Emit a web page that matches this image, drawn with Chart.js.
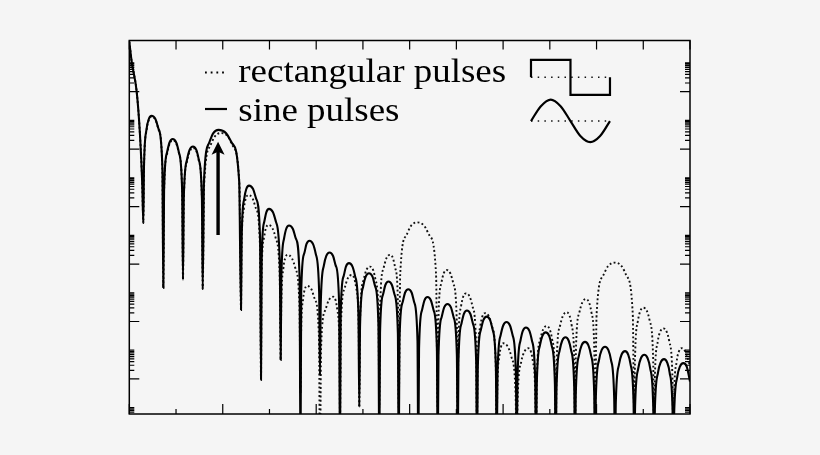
<!DOCTYPE html>
<html>
<head>
<meta charset="utf-8">
<title>Spectra of rectangular and sine pulses</title>
<script src="https://cdn.jsdelivr.net/npm/chart.js@4.4.1/dist/chart.umd.min.js"></script>
<style>
  html, body { margin: 0; padding: 0; background: #f5f5f5; }
  #wrap { position: relative; width: 820px; height: 455px; }
</style>
</head>
<body>
<div id="wrap"><canvas id="myChart" width="820" height="455"></canvas></div>
<script>
// spectrum of the sine pulses (x in tick units, level in dB)
const sineX = [
  0, 0.051, 0.158, 0.229, 0.278, 0.300,
  0.314, 0.370, 0.416, 0.475, 0.561, 0.627, 0.708, 0.728,
  0.744, 0.808, 0.861, 0.929, 1.004, 1.061, 1.131, 1.149,
  1.166, 1.235, 1.290, 1.363, 1.434, 1.488, 1.554, 1.571,
  1.598, 1.706, 1.794, 1.909, 2.073, 2.198, 2.352, 2.391,
  2.405, 2.459, 2.504, 2.562, 2.649, 2.716, 2.798, 2.819,
  2.833, 2.887, 2.932, 2.990, 3.075, 3.140, 3.220, 3.240,
  3.254, 3.311, 3.357, 3.418, 3.502, 3.566, 3.644, 3.664,
  3.679, 3.741, 3.791, 3.857, 3.933, 3.991, 4.063, 4.081,
  4.097, 4.163, 4.216, 4.285, 4.361, 4.419, 4.491, 4.509,
  4.524, 4.586, 4.636, 4.702, 4.777, 4.834, 4.904, 4.922,
  4.939, 5.005, 5.059, 5.130, 5.205, 5.262, 5.332, 5.350,
  5.366, 5.429, 5.480, 5.547, 5.621, 5.678, 5.748, 5.766,
  5.782, 5.848, 5.901, 5.971, 6.044, 6.099, 6.168, 6.185,
  6.201, 6.264, 6.315, 6.382, 6.456, 6.513, 6.583, 6.600,
  6.617, 6.684, 6.739, 6.810, 6.884, 6.941, 7.011, 7.028,
  7.044, 7.108, 7.159, 7.227, 7.300, 7.355, 7.424, 7.441,
  7.458, 7.524, 7.578, 7.649, 7.722, 7.777, 7.846, 7.863,
  7.880, 7.947, 8.002, 8.073, 8.147, 8.204, 8.274, 8.291,
  8.307, 8.371, 8.422, 8.490, 8.563, 8.618, 8.687, 8.704,
  8.721, 8.787, 8.841, 8.912, 8.985, 9.040, 9.109, 9.126,
  9.143, 9.210, 9.264, 9.335, 9.404, 9.457, 9.523, 9.539,
  9.556, 9.625, 9.680, 9.753, 9.826, 9.881, 9.950, 9.967,
  9.984, 10.053, 10.108, 10.181, 10.254, 10.309, 10.378, 10.395,
  10.412, 10.481, 10.536, 10.609, 10.677, 10.728, 10.792, 10.808,
  10.825, 10.894, 10.949, 11.022, 11.093, 11.147, 11.213, 11.230,
  11.247, 11.316, 11.371, 11.444, 11.512, 11.563, 11.627, 11.643,
  11.660, 11.729, 11.784, 11.857, 11.930, 12.0
];
const sineDb = [
  17.4, 10.4, 0, -15.1, -32.5, -45.7,
  -26.4, -13.0, -9.6, -8.4, -9.6, -13.0, -26.4, -68.3,
  -34.5, -21.1, -17.7, -16.5, -17.7, -21.1, -34.5, -65.5,
  -37.1, -23.7, -20.3, -19.1, -20.3, -23.7, -37.1, -68.7,
  -31.3, -17.9, -14.5, -13.3, -14.5, -17.9, -31.3, -76.0,
  -50.7, -37.3, -33.9, -32.7, -33.9, -37.3, -50.7, -100.3,
  -58.8, -45.4, -42.0, -40.8, -42.0, -45.4, -58.8, -93.4,
  -64.6, -51.2, -47.8, -46.6, -47.8, -51.2, -64.6, -130,
  -69.9, -56.5, -53.1, -51.9, -53.1, -56.5, -69.9, -98.6,
  -74.0, -60.6, -57.2, -56.0, -57.2, -60.6, -74.0, -130,
  -77.7, -64.3, -60.9, -59.7, -60.9, -64.3, -77.7, -109.7,
  -81.2, -67.8, -64.4, -63.2, -64.4, -67.8, -81.2, -130,
  -84.1, -70.7, -67.3, -66.1, -67.3, -70.7, -84.1, -130,
  -86.8, -73.4, -70.0, -68.8, -70.0, -73.4, -86.8, -130,
  -89.5, -76.1, -72.7, -71.5, -72.7, -76.1, -89.5, -130,
  -91.9, -78.5, -75.1, -73.9, -75.1, -78.5, -91.9, -130,
  -94.2, -80.8, -77.4, -76.2, -77.4, -80.8, -94.2, -130,
  -96.3, -82.9, -79.5, -78.3, -79.5, -82.9, -96.3, -130,
  -98.2, -84.8, -81.4, -80.2, -81.4, -84.8, -98.2, -130,
  -100.1, -86.7, -83.3, -82.1, -83.3, -86.7, -100.1, -130,
  -101.8, -88.4, -85.0, -83.8, -85.0, -88.4, -101.8, -130,
  -103.5, -90.1, -86.7, -85.5, -86.7, -90.1, -103.5, -130,
  -105.1, -91.7, -88.3, -87.1, -88.3, -91.7, -105.1, -130,
  -106.8, -93.4, -90.0, -88.8, -90.0, -93.4, -106.8, -130,
  -108.3, -94.9, -91.5, -90.3, -91.5, -94.9, -108.3, -130,
  -109.6, -96.2, -92.8, -91.6, -92.8, -96.2, -109.6, -130,
  -111.1, -97.7, -94.3, -93.1, -94.3, -97.7, -111.1, -130,
  -112.5, -99.1, -95.7, -94.5, -95.7, -100.9
];

// spectrum of the rectangular pulses
const rectX = [
  0, 0.051, 0.158, 0.229, 0.278, 0.300,
  0.314, 0.371, 0.417, 0.478, 0.563, 0.628, 0.708, 0.728,
  0.744, 0.810, 0.863, 0.933, 1.006, 1.063, 1.132, 1.149,
  1.167, 1.237, 1.294, 1.368, 1.437, 1.490, 1.555, 1.571,
  1.602, 1.728, 1.830, 1.963, 2.109, 2.220, 2.357, 2.391,
  2.403, 2.453, 2.494, 2.547, 2.639, 2.710, 2.797, 2.819,
  2.831, 2.881, 2.922, 2.975, 3.065, 3.134, 3.219, 3.240,
  3.252, 3.298, 3.336, 3.386, 3.481, 3.553, 3.642, 3.664,
  3.675, 3.720, 3.756, 3.803, 3.898, 3.970, 4.059, 4.081,
  4.104, 4.195, 4.269, 4.366, 4.415, 4.452, 4.498, 4.509,
  4.529, 4.609, 4.675, 4.760, 4.815, 4.857, 4.909, 4.922,
  4.940, 5.014, 5.073, 5.151, 5.219, 5.270, 5.334, 5.350,
  5.368, 5.442, 5.502, 5.580, 5.643, 5.692, 5.751, 5.766,
  5.798, 5.925, 6.029, 6.164, 6.312, 6.426, 6.565, 6.600,
  6.615, 6.677, 6.727, 6.793, 6.873, 6.934, 7.009, 7.028,
  7.042, 7.099, 7.145, 7.206, 7.286, 7.347, 7.422, 7.441,
  7.455, 7.510, 7.555, 7.613, 7.698, 7.763, 7.843, 7.863,
  7.874, 7.919, 7.956, 8.004, 8.102, 8.176, 8.268, 8.291,
  8.311, 8.390, 8.455, 8.539, 8.595, 8.638, 8.691, 8.704,
  8.722, 8.796, 8.855, 8.933, 8.999, 9.049, 9.111, 9.126,
  9.145, 9.220, 9.281, 9.361, 9.422, 9.468, 9.525, 9.539,
  9.558, 9.633, 9.694, 9.774, 9.840, 9.890, 9.952, 9.967,
  10.001, 10.138, 10.249, 10.395, 10.535, 10.643, 10.775, 10.808,
  10.823, 10.885, 10.935, 11.001, 11.079, 11.138, 11.212, 11.230,
  11.246, 11.310, 11.361, 11.429, 11.502, 11.557, 11.626, 11.643,
  11.657, 11.715, 11.761, 11.822, 11.900, 12.0
];
const rectDb = [
  17.4, 10.4, 0, -15.1, -32.5, -45.7,
  -26.7, -13.3, -9.9, -8.7, -9.9, -13.3, -26.7, -68.3,
  -34.9, -21.5, -18.1, -16.9, -18.1, -21.5, -34.9, -65.5,
  -37.6, -24.2, -20.8, -19.6, -20.8, -24.2, -37.6, -68.7,
  -32.4, -19.0, -15.6, -14.4, -15.6, -19.0, -32.4, -76.0,
  -54.0, -40.6, -37.2, -36.0, -37.2, -40.6, -54.0, -100.3,
  -64.4, -51.0, -47.6, -46.4, -47.6, -51.0, -64.4, -93.4,
  -74.8, -61.4, -58.0, -56.8, -58.0, -61.4, -74.8, -105,
  -85.6, -72.2, -68.8, -67.6, -68.8, -72.2, -85.6, -130,
  -89.4, -76.0, -72.6, -71.4, -72.6, -76.0, -89.4, -115,
  -81.8, -68.4, -65.0, -63.8, -65.0, -68.4, -81.8, -110,
  -78.9, -65.5, -62.1, -60.9, -62.1, -65.5, -78.9, -110,
  -74.8, -61.4, -58.0, -56.8, -58.0, -61.4, -74.8, -110,
  -63.5, -50.1, -46.7, -45.5, -46.7, -50.1, -63.5, -110,
  -80.1, -66.7, -63.3, -62.1, -63.3, -66.7, -80.1, -115,
  -88.2, -74.8, -71.4, -70.2, -71.4, -74.8, -88.2, -120,
  -95.1, -81.7, -78.3, -77.1, -78.3, -81.7, -95.1, -125,
  -105.6, -92.2, -88.8, -87.6, -88.8, -92.2, -105.6, -130,
  -107.3, -93.9, -90.5, -89.3, -90.5, -93.9, -107.3, -130,
  -99.6, -86.2, -82.8, -81.6, -82.8, -86.2, -99.6, -125,
  -94.8, -81.4, -78.0, -76.8, -78.0, -81.4, -94.8, -120,
  -90.2, -76.8, -73.4, -72.2, -73.4, -76.8, -90.2, -115,
  -77.5, -64.1, -60.7, -59.5, -60.7, -64.1, -77.5, -115,
  -93.2, -79.8, -76.4, -75.2, -76.4, -79.8, -93.2, -120,
  -100.4, -87.0, -83.6, -82.4, -83.6, -87.0, -100.4, -125,
  -107.3, -93.9, -90.5, -89.3, -90.5, -95.5
];

// inset: one period of each pulse shape
const squareX = [0, 0, 0.5, 0.5, 1, 1];
const squareY = [0, 1, 1, -1, -1, 0];
const waveX = [0, 0.125, 0.25, 0.375, 0.5, 0.625, 0.75, 0.875, 1];
const waveY = [-2.5, -1.65, -1.27, -1.65, -2.5, -3.35, -3.7, -3.35, -2.5];
const zeroX = [0, 1];
const squareZero = [0, 0];
const waveZero = [-2.5, -2.5];

// axes (no tick labels in the figure)
const xTickValues = [0, 1, 2, 3, 4, 5, 6, 7, 8, 9, 10, 11, 12];
const yMajorDb = [20, 0, -20, -40, -60, -80, -100, -120];
const seriesLabels = ['rectangular pulses', 'sine pulses'];

// carrier arrow
const arrowX = 1.90;
const arrowFromDb = -49.9;
const arrowToDb = -17.4;

function toPoints(xs, ys) {
  return xs.map((v, i) => ({ x: v, y: ys[i] }));
}

const framePlugin = {
  id: 'frame',
  afterDatasetsDraw(chart) {
    const { ctx, chartArea: a, scales: { x, y } } = chart;
    ctx.save();

    // ticks
    ctx.strokeStyle = '#000';
    ctx.lineWidth = 1.2;
    ctx.beginPath();
    xTickValues.forEach(v => {
      const px = x.getPixelForValue(v);
      ctx.moveTo(px, a.top); ctx.lineTo(px, a.top + 9);
      const len = v % 2 === 0 ? 10 : 5;
      ctx.moveTo(px, a.bottom); ctx.lineTo(px, a.bottom - len);
    });
    yMajorDb.forEach(d => {
      const py = y.getPixelForValue(d);
      if (py > a.top && py < a.bottom) {
        ctx.moveTo(a.left, py); ctx.lineTo(a.left + 10, py);
        ctx.moveTo(a.right, py); ctx.lineTo(a.right - 10, py);
      }
      for (let k = 2; k <= 10; k++) {
        const pm = y.getPixelForValue(d + 10 * Math.log10(k));
        if (pm > a.top && pm < a.bottom) {
          ctx.moveTo(a.left, pm); ctx.lineTo(a.left + 5, pm);
          ctx.moveTo(a.right, pm); ctx.lineTo(a.right - 5, pm);
        }
      }
    });
    ctx.stroke();

    // frame
    ctx.lineWidth = 1.5;
    ctx.strokeRect(a.left, a.top, a.right - a.left, a.bottom - a.top);

    // arrow
    const ax = x.getPixelForValue(arrowX);
    const ay0 = y.getPixelForValue(arrowFromDb);
    const ay1 = y.getPixelForValue(arrowToDb);
    ctx.lineWidth = 3.4;
    ctx.beginPath();
    ctx.moveTo(ax, ay0); ctx.lineTo(ax, ay1 + 8);
    ctx.stroke();
    ctx.fillStyle = '#000';
    ctx.beginPath();
    ctx.moveTo(ax, ay1);
    ctx.lineTo(ax - 6.5, ay1 + 13);
    ctx.lineTo(ax, ay1 + 10);
    ctx.lineTo(ax + 6.5, ay1 + 13);
    ctx.closePath();
    ctx.fill();

    // legend
    ctx.lineWidth = 1.8;
    ctx.setLineDash([1.8, 3.9]);
    ctx.beginPath(); ctx.moveTo(205, 72.5); ctx.lineTo(227, 72.5); ctx.stroke();
    ctx.setLineDash([]);
    ctx.lineWidth = 2.2;
    ctx.beginPath(); ctx.moveTo(205, 109); ctx.lineTo(227, 109); ctx.stroke();
    ctx.font = "33px 'Liberation Serif', 'DejaVu Serif', serif";
    ctx.textBaseline = 'alphabetic';
    [[seriesLabels[0], 81.7], [seriesLabels[1], 120.7]].forEach(([t, by]) => {
      ctx.save();
      ctx.translate(238.3, by);
      ctx.scale(1.12, 1);
      ctx.fillText(t, 0, 0);
      ctx.restore();
    });
    ctx.restore();
  }
};

const ctx = document.getElementById('myChart');

new Chart(ctx, {
  type: 'line',
  data: {
    datasets: [{
      label: seriesLabels[1],
      data: toPoints(sineX, sineDb),
      borderColor: '#000',
      borderWidth: 2.1,
      pointRadius: 0,
      cubicInterpolationMode: 'monotone'
    }, {
      label: seriesLabels[0],
      data: toPoints(rectX, rectDb),
      borderColor: '#111',
      borderWidth: 1.9,
      borderDash: [1.9, 2.4],
      pointRadius: 0,
      cubicInterpolationMode: 'monotone'
    }, {
      data: toPoints(squareX, squareY),
      xAxisID: 'xi', yAxisID: 'yi',
      borderColor: '#000', borderWidth: 2.2,
      borderJoinStyle: 'miter', pointRadius: 0, tension: 0
    }, {
      data: toPoints(zeroX, squareZero),
      xAxisID: 'xi', yAxisID: 'yi',
      borderColor: '#111', borderWidth: 1.5, borderDash: [1.5, 5.2],
      pointRadius: 0
    }, {
      data: toPoints(waveX, waveY),
      xAxisID: 'xi', yAxisID: 'yi',
      borderColor: '#000', borderWidth: 2.2,
      pointRadius: 0, cubicInterpolationMode: 'monotone'
    }, {
      data: toPoints(zeroX, waveZero),
      xAxisID: 'xi', yAxisID: 'yi',
      borderColor: '#111', borderWidth: 1.5, borderDash: [1.5, 5.2],
      pointRadius: 0
    }]
  },
  options: {
    responsive: false,
    animation: false,
    layout: { padding: { left: 129.3, top: 40.5, right: 130, bottom: 41 } },
    scales: {
      x: { type: 'linear', min: 0, max: 12, display: false },
      y: { type: 'linear', min: -112.2, max: 17.8, display: false },
      xi: { type: 'linear', min: -5.085, max: 2.013, display: false },
      yi: { type: 'linear', min: -19.24, max: 2.103, display: false }
    },
    plugins: {
      legend: { display: false },
      tooltip: { enabled: false }
    }
  },
  plugins: [framePlugin]
});
</script>
</body>
</html>
